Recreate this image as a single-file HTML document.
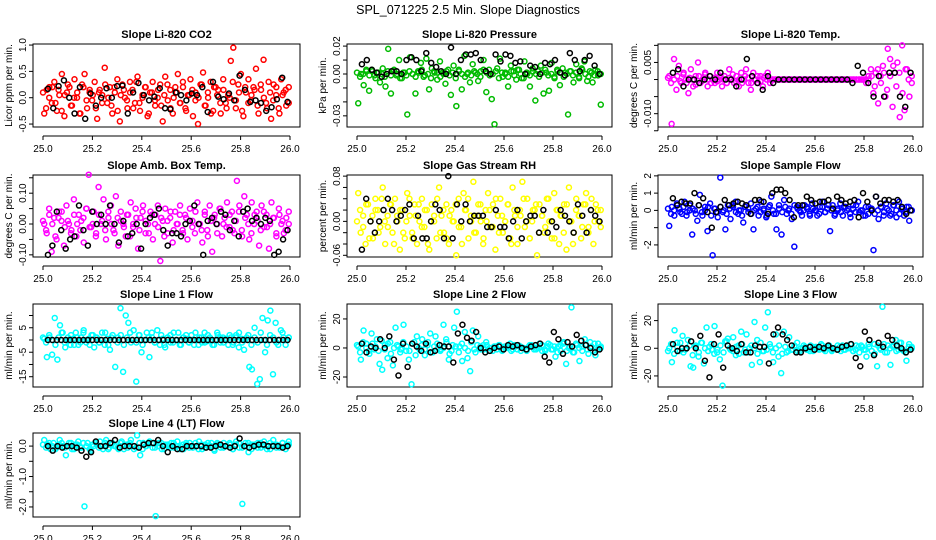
<!DOCTYPE html>
<html><head><meta charset="utf-8">
<style>
html,body{margin:0;padding:0;background:#fff;}
svg{display:block;font-family:"Liberation Sans",Arial,sans-serif;}
</style></head>
<body>
<svg id="chart" width="936" height="540" viewBox="0 0 936 540" xmlns="http://www.w3.org/2000/svg">
<text x="468" y="14" text-anchor="middle" font-size="12.5">SPL_071225  2.5 Min. Slope Diagnostics</text>
</svg>
<script>
// ---- data ----
const xTickLabels = ["25.0","25.2","25.4","25.6","25.8","26.0"];
const xTicks = [25.0,25.2,25.4,25.6,25.8,26.0];
const titles = ["Slope Li-820 CO2","Slope Li-820 Pressure","Slope Li-820 Temp.","Slope Amb. Box Temp.","Slope Gas Stream RH","Slope Sample Flow","Slope Line 1 Flow","Slope Line 2 Flow","Slope Line 3 Flow","Slope Line 4 (LT) Flow"];
const yTitles = ["Licor ppm per min.","kPa per min.","degrees C per min.","degrees C per min.","percent per min.","ml/min per min.","ml/min per min.","ml/min per min.","ml/min per min.","ml/min per min."];
const seriesColors = ["#ff0000","#00bb00","#ff00ff","#ff00ff","#ffff00","#0000ff","#00ffff","#00ffff","#00ffff","#00ffff"];
const yLimits = [[-0.556,1.02],[-0.038,0.0215],[-0.0139,0.0104],[-0.107,0.159],[-0.063,0.082],[-2.7,2.05],[-19.2,14.7],[-26.9,30.3],[-28,32],[-2.33,0.43]];
const yTickVals = [[-0.5,0,0.5,1.0],[-0.03,-0.02,-0.01,0,0.01,0.02],[-0.015,-0.01,-0.005,0,0.005,0.01],[-0.1,-0.05,0,0.05,0.1,0.15],[-0.06,-0.04,-0.02,0,0.02,0.04,0.06,0.08],[-2,-1,0,1,2],[-15,-10,-5,0,5,10],[-20,0,20],[-20,0,20],[-2,-1.5,-1,-0.5,0]];
const yTickLabels = [["-0.5","0.0","0.5","1.0"],["-0.03","","","0.00","","0.02"],["","-0.010","","","0.005",""],["-0.10","","0.00","","0.10",""],["-0.06","","","0.00","","","","0.08"],["-2","","0","1","2"],["-15","","-5","","5",""],["-20","0","20"],["-20","0","20"],["-2.0","","-1.0","","0.0"]];

const co2Color=[-0.3,0.15,0.2,-0.1,0.3,-0.25,0.05,0.45,-0.35,0.1,0.2,-0.15,0.35,0.0,-0.3,0.25,0.45,-0.2,0.1,-0.05,0.3,-0.4,0.15,0.05,0.57,-0.1,0.2,-0.3,0.1,0.35,-0.45,0.25,0.0,-0.2,0.3,0.15,-0.1,0.4,-0.25,0.05,0.2,-0.35,0.1,0.3,-0.15,0.0,0.25,-0.45,0.4,-0.05,0.15,-0.3,0.2,0.45,-0.1,0.3,-0.2,0.05,0.35,-0.35,0.1,-0.5,0.25,0.48,-0.15,0.0,0.3,-0.25,0.2,0.15,-0.3,0.35,-0.1,0.05,0.7,0.95,-0.2,0.25,0.45,-0.35,0.1,0.35,-0.05,0.2,0.55,-0.3,0.15,0.72,-0.1,0.3,-0.4,0.25,0.05,-0.2,0.35,0.1,-0.15,0.2];
const co2Band=[0.1,-0.2,0.0,0.2,-0.1,0.15,-0.25,0.05,0.25,-0.15,0.0,0.1,-0.3,0.2,-0.05,0.15,0.05,-0.2,0.1,-0.1,0.25,0.0,-0.15,0.2,-0.25,0.05,0.15,-0.05,0.1,-0.2,0.3,-0.1,0.0,0.2,-0.3,0.1,-0.05,0.15,-0.15,0.05,0.25,-0.2,0.0,0.1,-0.1,0.2,-0.25,0.05,0.15,-0.05,0.0,0.25,-0.15,0.1,-0.3,0.2,0.05,-0.1,0.15,-0.2,0.0,0.3,-0.05,0.1,-0.25,0.2,-0.1,0.05,0.15,-0.15,0.25,0.0,-0.2,0.1,-0.05,0.2,-0.3,0.05,0.15,-0.1];
const co2Black=[0.17,-0.2,0.22,0.33,0.0,-0.3,0.2,-0.4,0.08,-0.15,0.0,0.18,0.0,0.22,0.23,-0.3,0.1,0.28,0.05,-0.05,0.02,0.18,-0.2,-0.22,0.1,0.05,-0.05,0.08,0.05,0.2,-0.27,0.3,0.02,-0.03,0.08,-0.05,0.42,0.15,-0.08,-0.05,-0.1,-0.25,-0.18,-0.03,0.38,-0.08];
const presColor=[-0.021,0,-0.008,0.002,-0.012,0.003,-0.001,0.001,-0.006,0.004,-0.009,0.018,-0.014,0.002,-0.001,0.01,-0.003,0.001,-0.029,0.012,0.0,-0.014,0.002,0.008,-0.002,0.011,-0.011,0.004,0.001,-0.004,0.009,0.001,-0.007,0.003,-0.015,0.006,-0.023,0.002,-0.011,0.013,0.0,-0.006,0.007,0.001,-0.005,0.002,0.01,-0.013,0.003,-0.018,-0.036,0.004,0.011,-0.002,0.001,-0.009,0.006,0.002,-0.004,0.003,-0.003,0.009,0.0,-0.009,0.004,-0.019,0.002,0.006,-0.014,0.001,-0.012,0.008,-0.002,0.003,-0.008,0.004,0.001,-0.029,0.002,-0.006,0.007,-0.002,0.004,0.009,-0.005,0.002,-0.006,0.003,-0.001,-0.022];
const presBand=[0.001,-0.002,0.0,0.003,-0.001,0.002,-0.003,0.001,0.0,-0.002,0.002,-0.001,0.003,0.0,-0.003,0.001,-0.001,0.002,0.0,-0.002,0.001,0.003,-0.001,0.0,-0.003,0.002,0.001,-0.002,0.0,0.002,-0.001,0.001,-0.003,0.003,0.0,-0.002,0.001,-0.001,0.002,0.0,-0.002,0.003,0.001,-0.001,0.0,0.002,-0.003,0.001,0.0,-0.002,0.002,-0.001,0.003,0.0,-0.003,0.001,-0.001,0.002,0.0,-0.002,0.001,0.003,-0.001,0.0,-0.003,0.002,0.001,-0.002,0.0,0.002,-0.001,0.001,-0.003,0.003,0.0,-0.002,0.001,-0.001,0.002,0.0];
const presBlack=[0.007,0.01,0.003,0.001,-0.002,0.0,0.002,0.002,0.0,0.01,0.012,0.01,0.002,0.015,0.008,0.005,0.002,0.0,0.019,0.0,0.01,0.014,0.014,0.015,0.01,0.002,0.0,0.014,0.009,0.014,0.013,0.008,0.009,0.0,0.006,0.005,0.0,0.008,0.007,0.01,0.001,-0.001,0.015,0.01,0.002,0.01,0.013,0.006,0.0];
const tempColor=[0.001,-0.013,0.006,-0.003,0.004,-0.001,0.002,0.0,-0.004,0.003,-0.002,0.001,0.005,-0.001,0.0,0.002,-0.002,0.001,0.0,-0.001,0.002,0.0,-0.002,0.001,-0.001,0.003,0.0,-0.001,0.001,-0.002,0.002,0.0,0.003,-0.001,-0.003,0.002,0.0,-0.001,0.001,-0.002,0.001,0.002,-0.001,0.0,0.0,0.0,0.0,0.0,0.0,0.0,0.0,0.0,0.0,0.0,0.0,0.0,0.0,0.0,0.0,0.0,0.0,0.0,0.0,0.0,0.0,0.0,0.0,0.0,0.0,0.0,0.0,0.0,0.0,0.0,0.0,0.0,0.0,0.0,0.0,0.0,0.0,0.0,-0.001,0.001,0.003,-0.004,0.002,-0.007,0.001,0.004,-0.005,0.009,0.006,-0.008,0.002,0.005,-0.011,0.01,-0.009,0.003,-0.005,0.001];
const tempBand=[0.0005,-0.001,0.0,0.001,-0.0005,0.0015,-0.001,0.0005,0.0,-0.0015,0.001,-0.0005,0.0015,0.0,-0.001,0.0005,-0.0005,0.001,0.0,-0.001,0.0005,0.0015,-0.0005,0.0,-0.001,0.001,0.0005,-0.001,0.0,0.001,-0.0005,0.0005,0.0,0.0,0.0,0.0,0.0,0.0,0.0,0.0,0.0,0.0,0.0,0.0,0.0,0.0,0.0,0.0,0.0,0.0,0.0,0.0,0.0,0.0,0.0,0.0,0.0,0.0,0.0,0.0,0.0,0.0,0.0,0.0,0.0,0.0,0.001,-0.002,0.003,-0.001,0.002,-0.003,0.001,0.004,-0.002,0.002,-0.004,0.003,0.0,-0.001];
const tempBlack=[0.002,0.003,-0.002,0.0,0.0,-0.001,0.0,0.001,0.0,0.002,0.0,0.0,-0.002,0.0,0.006,0.001,-0.001,-0.003,0.001,-0.001,0.0,0.0,0.0,0.0,0.0,0.0,0.0,0.0,0.0,0.0,0.0,0.0,0.0,0.0,-0.001,0.004,0.002,-0.001,-0.005,0.001,-0.005,0.002,0.002,-0.005,-0.008,0.002];
const boxColor=[0.0,-0.03,0.05,-0.09,0.02,-0.05,0.04,0.01,-0.07,0.06,0.0,-0.02,0.08,-0.04,0.03,0.01,-0.06,0.05,0.16,-0.01,0.04,-0.03,0.12,0.0,0.08,-0.05,0.02,0.06,-0.02,0.09,-0.07,0.04,0.0,-0.04,0.03,0.07,-0.01,0.05,-0.08,0.02,0.06,-0.03,0.0,0.04,-0.05,0.03,0.06,-0.12,0.01,0.05,-0.03,0.02,-0.06,0.04,0.0,0.06,-0.02,0.03,-0.05,0.05,0.01,-0.03,0.07,0.0,-0.06,0.04,-0.02,0.06,-0.09,0.03,0.0,0.05,-0.04,0.02,0.07,-0.01,0.04,-0.03,0.14,0.06,-0.02,0.09,0.03,-0.05,0.07,0.0,0.04,-0.07,0.06,-0.01,0.03,-0.08,0.07,0.02,-0.04,0.05,0.0,-0.03,0.02,0.04];
const boxBand=[0.01,-0.02,0.03,0.0,-0.04,0.02,0.04,-0.01,0.01,-0.03,0.03,0.0,-0.02,0.02,0.05,-0.01,0.0,-0.04,0.03,0.01,-0.02,0.04,0.0,-0.03,0.02,0.01,-0.01,0.03,-0.04,0.0,0.02,-0.02,0.04,0.01,-0.03,0.03,0.0,-0.01,0.02,-0.04,0.01,0.04,-0.02,0.0,0.03,-0.03,0.02,0.01,-0.01,0.04,0.0,-0.02,0.03,-0.04,0.01,0.02,-0.03,0.05,0.0,-0.01,0.03,-0.02,0.01,0.04,-0.04,0.02,0.0,-0.03,0.03,0.01,-0.02,0.04,-0.01,0.0,0.02,-0.03,0.03,0.01,-0.02,0.0];
const boxBlack=[-0.1,-0.07,0.04,-0.02,-0.08,-0.05,-0.04,0.06,-0.02,-0.07,0.04,0.0,0.03,0.0,0.06,0.0,-0.06,0.01,-0.04,-0.03,0.0,-0.08,0.0,0.02,0.03,0.05,-0.02,-0.07,-0.03,-0.03,-0.04,0.0,0.01,0.06,0.0,-0.1,0.01,0.02,0.0,0.04,0.03,-0.02,0.01,-0.04,0.04,0.05,0.01,0.02,0.0,0.02,0.01,-0.1,-0.09,-0.05,-0.02];
const rhColor=[0.05,-0.02,0.01,-0.04,0.03,0.0,-0.03,0.04,0.02,-0.01,0.06,-0.04,0.01,0.03,-0.02,0.04,0.0,-0.05,0.02,-0.03,0.05,0.01,-0.02,0.03,-0.04,0.0,0.04,-0.01,0.02,-0.05,0.03,0.0,-0.03,0.06,0.01,-0.02,0.03,-0.04,0.02,0.0,-0.06,0.04,-0.01,0.05,0.02,-0.03,0.01,0.07,-0.02,0.03,0.0,-0.04,0.02,0.05,-0.01,0.03,-0.05,0.01,0.04,-0.02,0.0,0.03,-0.03,0.06,0.01,-0.04,0.02,0.07,-0.01,0.04,-0.03,0.0,0.02,-0.06,0.03,0.01,-0.02,0.04,0.0,-0.03,0.05,0.02,-0.04,0.01,0.03,-0.05,0.06,0.0,-0.02,0.04,0.01,-0.03,0.03,0.05,-0.01,0.02,-0.04,0.03,0.0,0.02];
const rhBand=[0.0,0.02,-0.01,0.03,-0.03,0.01,0.02,-0.02,0.04,0.0,-0.01,0.03,-0.04,0.01,0.02,-0.02,0.0,0.04,-0.03,0.01,0.03,-0.01,0.02,-0.04,0.0,0.01,0.04,-0.02,0.02,-0.03,0.01,0.0,0.03,-0.01,-0.04,0.02,0.04,0.0,-0.02,0.01,0.03,-0.03,0.0,0.02,-0.01,0.04,-0.02,0.01,0.0,0.03,-0.04,0.02,-0.01,0.01,0.04,0.0,-0.03,0.02,0.03,-0.02,0.01,-0.01,0.04,0.0,-0.03,0.02,0.01,-0.02,0.03,0.0,-0.04,0.02,0.01,-0.01,0.03,-0.02,0.04,0.0,0.02,-0.01];
const rhBlack=[-0.05,0.04,0.0,-0.02,0.0,0.02,0.04,0.02,0.0,0.01,0.02,0.03,-0.03,0.01,-0.03,-0.03,0.0,0.03,0.02,-0.03,0.08,-0.03,0.03,0.0,0.03,0.0,0.01,0.01,0.01,-0.01,-0.01,0.02,-0.01,-0.01,-0.03,0.0,0.02,-0.03,0.0,0.01,0.01,-0.02,0.02,-0.02,0.0,-0.01,0.02,0.01,0.0,-0.02,0.03,0.01,-0.02,0.02,0.01,0.0];
const flowColor=[-0.9,0.2,-0.3,0.4,0.1,-0.2,0.5,-0.1,0.3,-1.4,0.0,-0.6,0.9,-0.3,0.2,-1.2,0.4,-2.6,0.1,-0.4,1.9,-0.1,-1.1,0.3,-0.5,0.2,0.5,-0.2,0.0,-0.7,0.3,-0.1,0.4,-1.1,0.1,-0.3,0.5,0.0,-0.4,0.2,0.8,-0.2,-1.1,0.3,-1.4,0.6,-0.2,0.1,-0.5,-2.1,0.2,0.0,-0.3,0.3,0.1,-0.2,0.4,0.0,-0.3,0.2,0.5,-0.1,0.1,-1.2,0.3,-0.2,0.0,0.4,-0.3,0.2,0.1,-0.4,0.3,-0.1,0.5,0.0,-0.3,0.2,-0.2,0.1,-2.3,0.8,-0.5,0.2,-0.3,0.4,0.0,-0.2,0.3,-0.4,0.5,0.1,-0.3,0.2,-0.6,0.0];
const flowBand=[0.1,-0.2,0.0,0.3,-0.1,0.2,-0.3,0.0,0.1,-0.2,0.3,-0.1,0.0,0.2,-0.3,0.1,-0.1,0.2,0.0,-0.2,0.1,0.3,-0.1,0.0,-0.3,0.2,0.1,-0.2,0.0,0.2,-0.1,0.1,-0.3,0.3,0.0,-0.2,0.1,-0.1,0.2,0.0,-0.2,0.3,0.1,-0.1,0.0,0.2,-0.3,0.1,0.0,-0.2,0.2,-0.1,0.3,0.0,-0.3,0.1,-0.1,0.2,0.0,-0.2,0.1,0.3,-0.1,0.0,-0.3,0.2,0.1,-0.2,0.0,0.2,-0.1,0.1,-0.3,0.3,0.0,-0.2,0.1,-0.1,0.2,0.0];
const flowBlack=[0.7,0.3,0.5,0.4,0.4,1.0,0.3,0.7,-0.1,-1.0,-0.1,0.2,0.6,0.3,0.4,0.5,0.4,0.3,-0.2,0.6,0.6,0.5,-0.2,1.0,1.2,1.2,1.0,0.6,-0.4,0.3,0.3,0.8,0.6,0.4,0.5,0.5,0.6,0.1,0.8,0.6,0.4,0.5,0.6,-0.4,1.0,0.5,0.0,0.8,0.4,0.6,0.6,0.5,0.6,0.2,-0.2,0.0];
const line1Color=[0.5,-7,1,-6,9,-8,6,3,-3,1,-2,0.5,3,-2,1,4,-1,0.5,2,-3,1,-1,3,-2,0.5,-4,2,-11,1,13,-13,10,7,-1,4,-17,2,-5,0,3,-7,1,-1,4,-2,0.5,-3,1,2,-1,0,3,-2,1,0.5,-1,2,-2,0,1,-1,3,-0.5,1,-2,0,2,-1,1,0.5,-2,1,-1,2,-3,0.5,-4,1,-11,-12,5,-18,-16,9,-5,8,12,-14,7,-2,4,1,0,1];
const line1Band=[1,-1,2,0,-2,1,3,-1,0,2,-2,1,-1,3,0,-2,2,1,-1,0,3,-2,1,0,-1,2,-2,1,3,0,-1,2,-2,0,1,3,-1,0,2,-2,1,-1,3,0,-2,1,2,-1,0,3,-2,1,-1,2,0,-2,3,1,-1,0,2,-2,1,3,-1,0,2,-2,1,-1,3,0,-2,2,1,-1,0,3,-2,1];
const line1Black=[0,0,0,0,0,0,0,0,0,0,0,0,0,0,0,0,0,0,0,0,0,0,0,0,0,0,0,0,0,0,0,0,0,0,0,0,0,0,0,0,0,0,0,0,0,0,0,0,0,0,0,0,0,0,0];
const line2Color=[1,-8,12,3,-2,10,-1,6,-11,-15,2,-7,4,-12,14,1,-1,16,-2,-8,-25,4,8,-1,6,-5,2,10,-3,8,0,-1,16,6,-8,-2,14,25,1,-9,11,-7,-16,12,-3,8,-1,2,4,-2,0,1,-1,2,-2,1,0,3,-1,1,2,-2,0,-1,1,2,-1,0,3,-2,-1,1,2,-1,-6,1,-2,3,-11,0,28,-3,2,-9,1,6,-1,4,-2,-5,3,1];
const line2Band=[2,-3,4,0,-4,3,1,-2,5,-1,3,-4,0,2,-3,4,1,-2,3,-5,0,2,-1,4,-3,1,3,-2,0,4,-4,2,1,-3,3,0,-2,4,-1,2,1,-1,2,0,-2,1,2,-1,0,1,-2,2,-1,1,0,-2,2,1,-1,0,2,-2,3,-1,1,-3,2,4,-2,1,-3,3,0,-2,2,-4,1,3,-1,0];
const line2Black=[3,-3,1,0,6,0,8,-8,-19,3,-13,3,1,-2,3,-3,-2,2,1,1,-10,10,16,7,5,11,0,-3,-2,0,1,-1,2,1,2,0,-1,1,2,3,-6,-10,11,6,-4,4,1,9,5,2,0,-3,-1];
const line3Color=[0,-10,13,4,-2,9,-1,6,-13,-14,2,-6,4,-11,15,1,-1,16,-3,-8,-27,5,7,-1,8,-5,2,12,-3,10,0,-12,19,6,-10,-2,15,26,1,-10,10,-6,-18,12,-3,8,-1,2,4,-2,0,1,-1,2,-2,1,0,3,-1,1,2,-2,0,-1,1,2,-1,0,3,-2,-1,1,2,-1,-6,1,-2,3,-13,0,30,-3,2,-12,1,6,-1,4,-2,-9,3,1];
const line3Band=[-2,3,-4,1,4,-3,0,2,-5,1,-3,4,0,-2,3,-4,-1,2,-3,5,0,-2,1,-4,3,-1,-3,2,0,-4,4,-2,-1,3,-3,0,2,-4,1,-2,-1,1,-2,0,2,-1,-2,1,0,-1,2,-2,1,-1,0,2,-2,-1,1,0,-2,2,-3,1,-1,3,-2,-4,2,-1,3,-3,0,2,-2,4,-1,-3,1,0];
const line3Black=[3,-2,0,0,5,0,9,-9,-21,3,10,-14,2,0,-2,3,-3,-3,2,1,1,-11,10,15,10,6,2,-3,-3,0,1,-1,1,0,2,0,-1,1,2,3,-7,-13,12,6,-5,4,1,9,6,2,0,-3,-1];
const line4Color=[0.2,0.05,-0.1,0.1,-0.05,0.2,0.0,-0.3,0.1,-0.1,0.05,0.15,-0.05,-1.98,0.1,-0.15,0.0,0.05,0.15,-0.1,0.2,-0.05,0.1,0.0,-0.1,0.15,0.05,-0.05,0.2,-0.1,0.35,-0.3,0.1,0.0,0.15,-0.05,-2.3,0.1,-0.1,0.05,0.0,0.1,-0.05,0.15,0.0,-0.1,0.05,0.1,-0.05,0.0,0.15,-0.1,0.05,0.0,0.1,-0.15,0.05,-0.05,0.1,0.0,0.05,-0.1,0.15,-0.05,-1.9,0.1,-0.2,0.05,0.0,0.1,-0.05,0.15,0.0,-0.1,0.2,0.05,-0.05,0.1,0.0,0.15];
const line4Band=[0.05,-0.05,0.1,0.0,-0.1,0.05,0.1,-0.05,0.0,0.1,-0.1,0.05,-0.05,0.1,0.0,-0.1,0.05,0.1,-0.05,0.0,0.1,-0.1,0.05,0.0,-0.05,0.1,-0.1,0.05,0.1,0.0,-0.05,0.1,-0.1,0.0,0.05,0.1,-0.05,0.0,0.1,-0.1,0.05,-0.05,0.1,0.0,-0.1,0.05,0.1,-0.05,0.0,0.1,-0.1,0.05,-0.05,0.1,0.0,-0.1,0.1,0.05,-0.05,0.0,0.1,-0.1,0.05,0.1,-0.05,0.0,0.1,-0.1,0.05,-0.05,0.1,0.0,-0.1,0.1,0.05,-0.05,0.0,0.1,-0.1,0.05];
const line4Black=[0.0,-0.15,0.0,-0.05,0.0,0.0,-0.05,-0.15,-0.35,-0.2,0.15,0.0,0.0,0.1,0.2,-0.05,0.0,0.0,0.0,-0.05,0.05,0.1,0.1,0.2,0.0,-0.2,0.0,-0.1,-0.1,0.0,0.0,0.0,0.0,-0.05,-0.05,0.0,0.05,0.0,-0.05,0.0,0.25,0.0,-0.05,0.0,0.05,0.05,0.0,0.0,0.0,-0.05,0.0];

const colorSeries=[co2Color,presColor,tempColor,boxColor,rhColor,flowColor,line1Color,line2Color,line3Color,line4Color];
const bandSeries=[co2Band,presBand,tempBand,boxBand,rhBand,flowBand,line1Band,line2Band,line3Band,line4Band];
const blackSeries=[co2Black,presBlack,tempBlack,boxBlack,rhBlack,flowBlack,line1Black,line2Black,line3Black,line4Black];

// ---- drawing ----
const NS="http://www.w3.org/2000/svg";
const svg=document.getElementById('chart');
function mk(tag,attrs,parent){const e=document.createElementNS(NS,tag);for(const k in attrs)e.setAttribute(k,attrs[k]);(parent||svg).appendChild(e);return e;}
const colLeft=[33,347,658], colRight=[300,612,923];
const rowTop=[44,175,304,433], rowBottom=[127,257,387,517];

for(let p=0;p<10;p++){
  const c=p%3, r=Math.floor(p/3);
  const L=colLeft[c], R=colRight[c], T=rowTop[r], B=rowBottom[r];
  const x0=L+10, x1=R-10;
  const sx=v=>x0+(v-25)*(x1-x0);
  const [ymin,ymax]=yLimits[p];
  const sy=v=>B-(v-ymin)/(ymax-ymin)*(B-T);
  const g=mk('g',{});
  
  
  const box=mk('rect',{x:L,y:T,width:R-L,height:B-T,fill:'none',stroke:'#000','stroke-width':1},g);
  
  
  const t=mk('text',{x:(L+R)/2,y:T-6,'text-anchor':'middle','font-size':11,'font-weight':'bold'},g);
  t.textContent=titles[p];
  
  
  const xa=mk('g',{},g);
  
  
  mk('line',{x1:sx(25),x2:sx(26),y1:B+9,y2:B+9,stroke:'#000'},xa);
  xTicks.forEach((v,i)=>{
    mk('line',{x1:sx(v),x2:sx(v),y1:B+9,y2:B+13,stroke:'#000'},xa);
    const tl=mk('text',{x:sx(v),y:B+25,'text-anchor':'middle','font-size':10},xa);
    tl.textContent=xTickLabels[i];
    
    
  });
  const ya=mk('g',{},g);
  
  
  const tv=yTickVals[p];
  mk('line',{x1:L,x2:L,y1:sy(tv[0]),y2:sy(tv[tv.length-1]),stroke:'#000'},ya);
  tv.forEach((v,i)=>{
    mk('line',{x1:L-4,x2:L,y1:sy(v),y2:sy(v),stroke:'#000'},ya);
    if(yTickLabels[p][i]){
      const yl=mk('text',{x:0,y:0,'text-anchor':'middle','font-size':10,transform:`translate(${L-7},${sy(v)}) rotate(-90)`},ya);
      yl.textContent=yTickLabels[p][i];
      
      
    }
  });
  const yt=mk('text',{x:0,y:0,'text-anchor':'middle','font-size':10,transform:`translate(${L-21},${(T+B)/2}) rotate(-90)`},g);
  yt.textContent=yTitles[p];
  
  
  const pg=mk('g',{fill:'none',stroke:seriesColors[p],'stroke-width':1.5},g);
  
  
  const cs=colorSeries[p], n=cs.length;
  cs.forEach((v,i)=>{
    const pt=mk('circle',{cx:sx(25.005+0.99*i/(n-1)),cy:sy(v),r:2.5},pg);
    
    
  });
  const bd=bandSeries[p], nb=bd.length;
  bd.forEach((v,i)=>{
    const pt=mk('circle',{cx:sx(25.0+0.995*i/(nb-1)),cy:sy(v),r:2.5},pg);
    
    
  });
  const bs=blackSeries[p], m=bs.length;
  const bg=mk('g',{fill:'none',stroke:'#000','stroke-width':1.5},g);
  
  
  bs.forEach((v,i)=>{
    const pt=mk('circle',{cx:sx(25.02+0.97*i/(m-1)),cy:sy(v),r:2.5},bg);
    
    
  });
}
</script>
</body></html>
